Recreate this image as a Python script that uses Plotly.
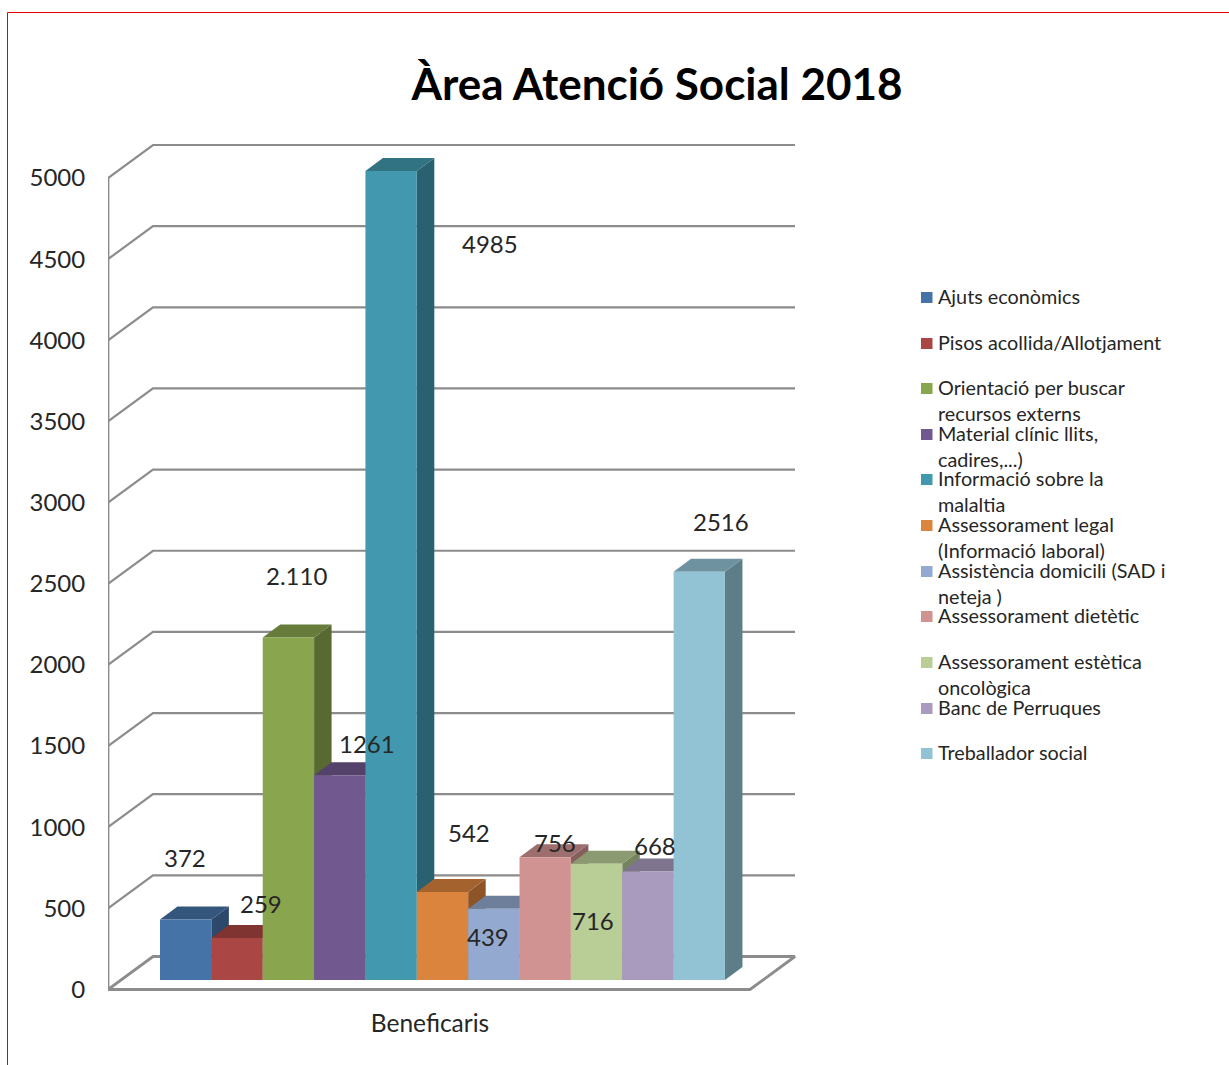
import plotly.graph_objects as go

# ---- data ----
categories = ["Ajuts econòmics", "Pisos acollida/Allotjament", "Orientació per buscar<br>recursos externs",
              "Material clínic llits,<br>cadires,...)", "Informació sobre la<br>malaltia",
              "Assessorament legal<br>(Informació laboral)", "Assistència domicili (SAD i<br>neteja )",
              "Assessorament dietètic", "Assessorament estètica<br>oncològica", "Banc de Perruques", "Treballador social"]
values = [372, 259, 2110, 1261, 4985, 542, 439, 756, 716, 668, 2516]
value_labels = ["372", "259", "2.110", "1261", "4985", "542", "439", "756", "716", "668", "2516"]
colors = ["#4572A7", "#AA4643", "#89A54E", "#71588F", "#4198AF", "#DB843D", "#93A9CF", "#D19392", "#B9CD96", "#A99BBD", "#92C3D4"]
y_ticks = [0, 500, 1000, 1500, 2000, 2500, 3000, 3500, 4000, 4500, 5000]
category_label = "Beneficaris"
title = "Àrea Atenció Social 2018"

# ---- layout constants (pixels) ----
W, H = 1229, 1065
FONT = "Lato"
TXT = "#262626"
GRID = "#8C8C8C"
SLOT = 51.36          # px per bar
BAR0 = 160            # left of first bar
PX_PER_V = 811.5 / 5000
Y0 = 989.5            # pixel of value 0 on the front wall
PLOT_L, PLOT_R, PLOT_T, PLOT_B = 108, 800, 130, 1000
WALL_DX, WALL_DY = 45, 33     # depth of walls
BAR_DX, BAR_DY = 17.5, 13     # depth of bars
BAR_LIFT = 9.5        # bars stand this far above the front edge of the floor
WALL_W = 642          # width of the floor

label_px = [(185, 857), (261, 903), (296, 575), (367, 743), (490, 243), (469, 832),
            (488, 936), (555, 843), (593, 920), (655, 845), (721, 521)]
legend_rows = [297, 343, 388, 434, 479, 525, 571, 616, 662, 708, 753]


def sx(px):  # pixel distance -> slot units
    return px / SLOT


def sv(px):  # pixel distance -> value units
    return px / PX_PER_V


def shade(hex_color, f):
    r, g, b = (int(hex_color[i:i + 2], 16) for i in (1, 3, 5))
    return f"rgb({round(r * f)},{round(g * f)},{round(b * f)})"


xr = [sx(PLOT_L - BAR0), sx(PLOT_R - BAR0)]
yr = [sv(Y0 - PLOT_B), sv(Y0 - PLOT_T)]
xl = sx(PLOT_L - BAR0)
xf = sx(PLOT_L + WALL_W - BAR0)
wdx, wdy = sx(WALL_DX), sv(WALL_DY)
bdx, bdy = sx(BAR_DX), sv(BAR_DY)
lift = sv(BAR_LIFT)

fig = go.Figure()

# gridlines on the left and back walls
gx, gy = [], []
for t in y_ticks[1:]:
    gx += [xl, xl + wdx, xf + wdx, None]
    gy += [t, t + wdy, t + wdy, None]
fig.add_trace(go.Scatter(x=gx, y=gy, mode="lines", line=dict(color=GRID, width=2.2),
                         hoverinfo="skip", showlegend=False))
# floor and front wall edge
fig.add_trace(go.Scatter(x=[xl, xl, xf, xf + wdx, xl + wdx, xl],
                         y=[y_ticks[-1], 0, 0, wdy, wdy, 0],
                         mode="lines", line=dict(color=GRID, width=2.8),
                         hoverinfo="skip", showlegend=False))

# side and top faces of the bars
for i, (v, c) in enumerate(zip(values, colors)):
    top = v + lift
    fig.add_trace(go.Scatter(x=[i + 1, i + 1 + bdx, i + 1 + bdx, i + 1, i + 1],
                             y=[lift, lift + bdy, top + bdy, top, lift],
                             mode="lines", fill="toself", fillcolor=shade(c, 0.64),
                             line=dict(width=0), hoverinfo="skip", showlegend=False))
    fig.add_trace(go.Scatter(x=[i, i + bdx, i + 1 + bdx, i + 1, i],
                             y=[top, top + bdy, top + bdy, top, top],
                             mode="lines", fill="toself", fillcolor=shade(c, 0.75),
                             line=dict(width=0), hoverinfo="skip", showlegend=False))

# front faces
for i, (name, v, c) in enumerate(zip(categories, values, colors)):
    fig.add_trace(go.Bar(x=[i + 0.5], y=[v], base=[lift], width=[1], name=name.replace("<br>", " "),
                         marker=dict(color=c, line=dict(width=0)), xaxis="x2", yaxis="y2",
                         showlegend=False))

annotations = []
for txt, (px, py) in zip(value_labels, label_px):
    annotations.append(dict(text=txt, x=px / W, y=1 - py / H, xref="paper", yref="paper",
                            xanchor="center", yanchor="middle", showarrow=False,
                            font=dict(family=FONT, size=24, color=TXT)))
shapes = [dict(type="path", xref="paper", yref="paper",
               path=f"M {7.5/W} 0 L {7.5/W} {1-12.5/H} L 1 {1-12.5/H}",
               line=dict(color="#E60000", width=1))]
LINE_H = 25.5
for name, c, py in zip(categories, colors, legend_rows):
    annotations.append(dict(text=name, x=938 / W, y=1 - (py - LINE_H / 2) / H, xref="paper", yref="paper",
                            xanchor="left", yanchor="top", align="left", showarrow=False,
                            borderpad=0, borderwidth=0,
                            font=dict(family=FONT, size=19.8, color=TXT)))
    shapes.append(dict(type="rect", xref="paper", yref="paper",
                       x0=921 / W, x1=932.5 / W, y0=1 - (py - 5) / H, y1=1 - (py + 6) / H,
                       fillcolor=c, line=dict(width=0)))

dom_x = [PLOT_L / W, PLOT_R / W]
dom_y = [1 - PLOT_B / H, 1 - PLOT_T / H]
fig.update_layout(
    width=W, height=H, margin=dict(l=0, r=0, t=0, b=0, pad=0), autosize=False,
    paper_bgcolor="white", plot_bgcolor="rgba(0,0,0,0)", showlegend=False, barmode="overlay",
    title=dict(text=title, x=657 / W, y=1 - 85 / H, xref="paper", yref="paper", xanchor="center", yanchor="middle",
               font=dict(family=FONT, size=44, color="#000000", weight="bold")),
    xaxis=dict(domain=dom_x, range=xr, showgrid=False, zeroline=False, showline=False, automargin=False,
               tickmode="array", tickvals=[sx(430 - BAR0)], ticktext=[category_label],
               ticks="outside", ticklen=2, tickcolor="rgba(0,0,0,0)",
               tickfont=dict(family=FONT, size=24.5, color=TXT)),
    yaxis=dict(domain=dom_y, range=yr, showgrid=False, zeroline=False, showline=False, automargin=False,
               tickmode="array", tickvals=y_ticks, ticktext=[str(t) for t in y_ticks],
               ticks="outside", ticklen=17, tickcolor="rgba(0,0,0,0)",
               tickfont=dict(family=FONT, size=24, color=TXT)),
    xaxis2=dict(domain=dom_x, range=xr, overlaying="x", visible=False),
    yaxis2=dict(domain=dom_y, range=yr, overlaying="y", visible=False),
    annotations=annotations, shapes=shapes,
)
fig.write_html("out.html", config=dict(displayModeBar=False),
               post_script="document.body.style.margin='0';document.documentElement.style.overflow='hidden';")
